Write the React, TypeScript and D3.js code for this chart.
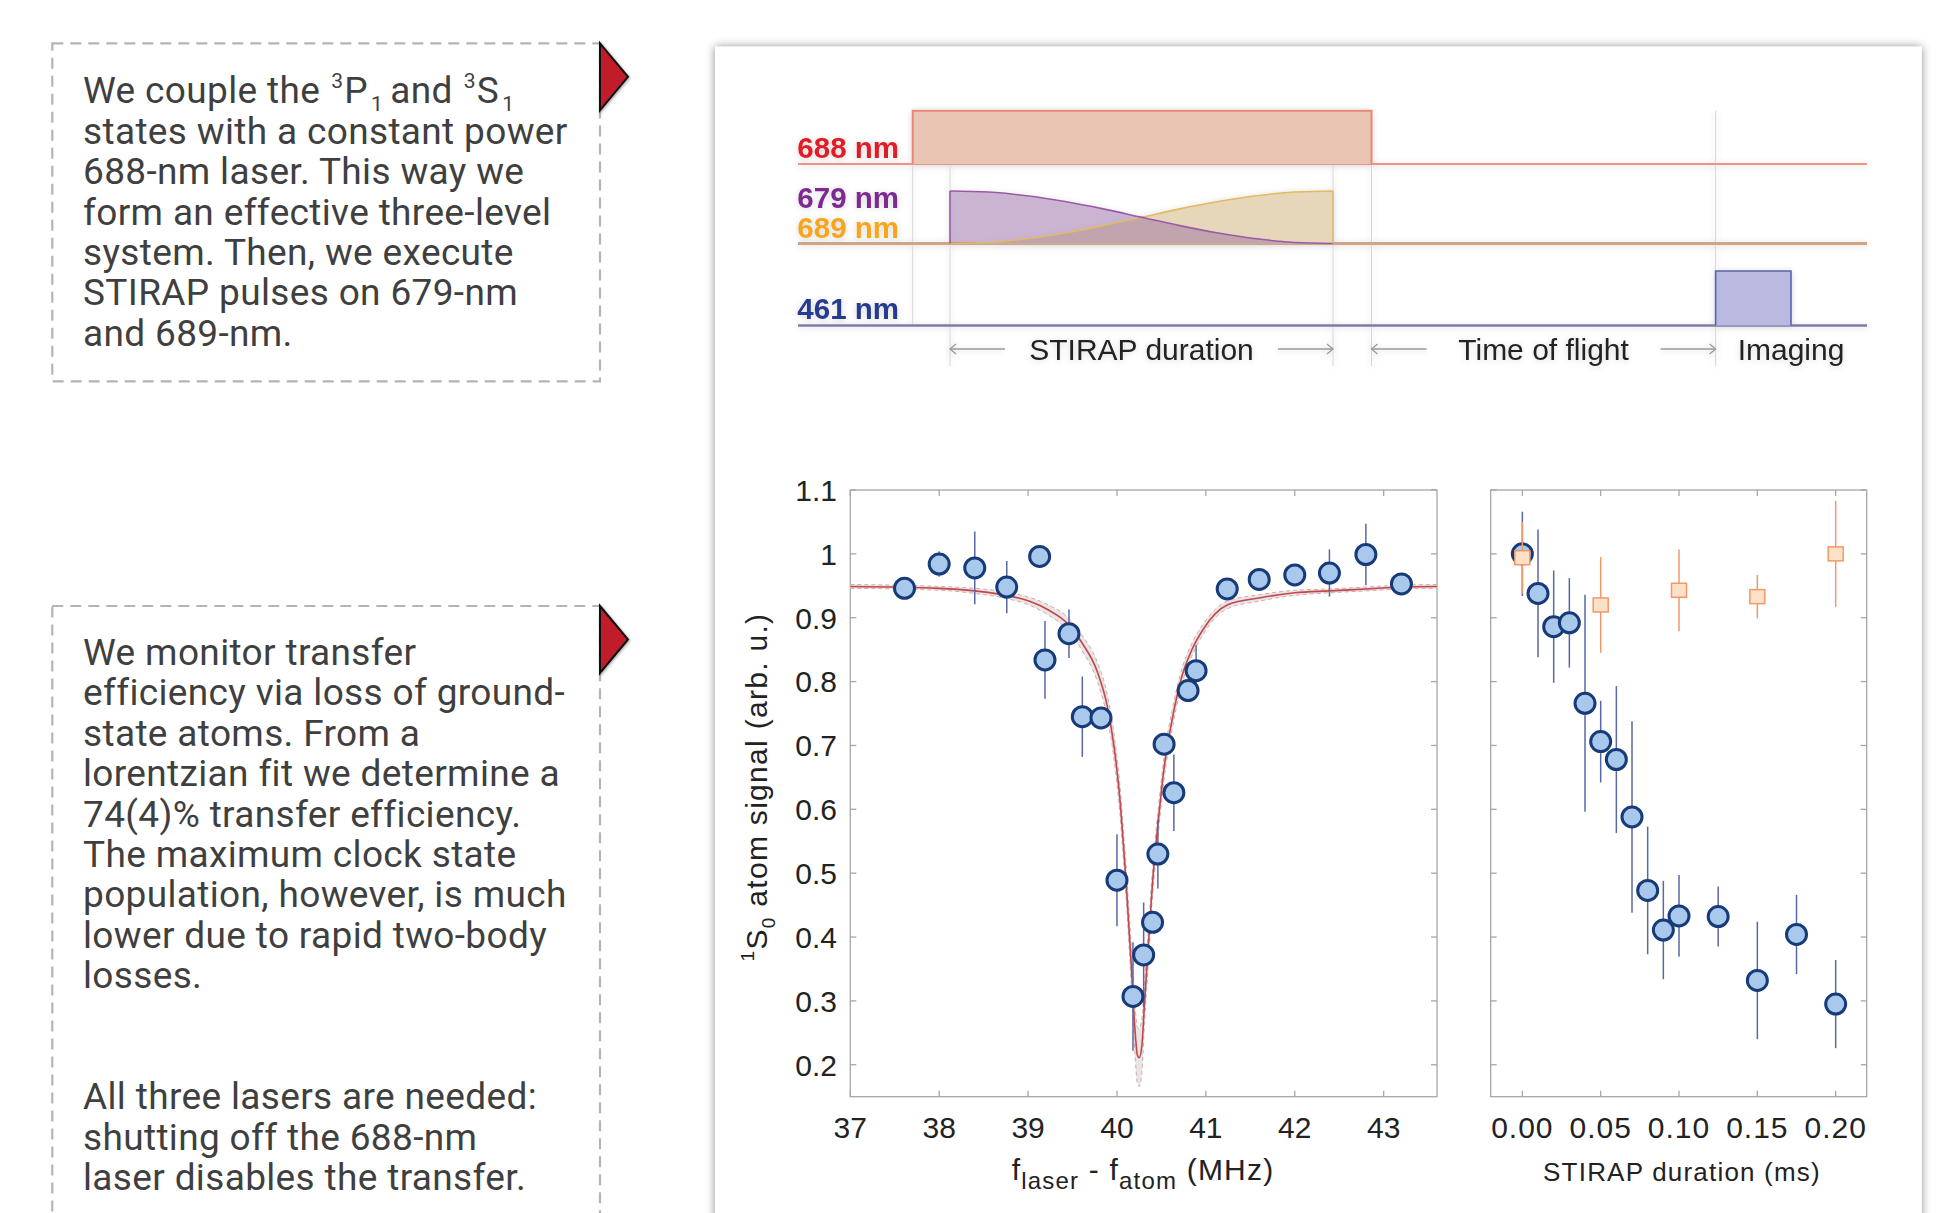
import * as d3 from 'd3';

const W = 1948;
const H = 1213;

// ---- text panels ----
const introLines = [
  '',
  'states with a constant power',
  '688-nm laser. This way we',
  'form an effective three-level',
  'system. Then, we execute',
  'STIRAP pulses on 679-nm',
  'and 689-nm.',
];
const resultLines = [
  'We monitor transfer',
  'efficiency via loss of ground-',
  'state atoms. From a',
  'lorentzian fit we determine a',
  '74(4)% transfer efficiency.',
  'The maximum clock state',
  'population, however, is much',
  'lower due to rapid two-body',
  'losses.',
  '',
  '',
  'All three lasers are needed:',
  'shutting off the 688-nm',
  'laser disables the transfer.',
];

// ---- pulse sequence (arbitrary time units 0..100) ----
const t688On = 10.73;
const tStirStart = 14.22;
const tStirEnd = 50.05;
const t688Off = 53.65;
const tImgStart = 85.84;
const tImgEnd = 92.89;
const stirFrac = [0, 0.1, 0.2, 0.3, 0.4, 0.5, 0.6, 0.7, 0.8, 0.9, 1];
const pump679 = [1, 0.98, 0.91, 0.8, 0.66, 0.5, 0.34, 0.2, 0.09, 0.02, 0];
const stokes689 = [0, 0.02, 0.09, 0.2, 0.34, 0.5, 0.66, 0.8, 0.91, 0.98, 1];

// ---- spectroscopy scan (left panel) ----
const scanFreq = [37.61, 38.0, 38.4, 38.76, 39.13, 39.19, 39.46, 39.61, 39.82, 40.0, 40.18, 40.3, 40.4, 40.46, 40.53, 40.64, 40.8, 40.89, 41.24, 41.6, 42.0, 42.39, 42.8, 43.2];
const scanSignal = [0.946, 0.984, 0.978, 0.948, 0.996, 0.834, 0.875, 0.745, 0.743, 0.489, 0.307, 0.372, 0.423, 0.53, 0.702, 0.626, 0.786, 0.817, 0.945, 0.96, 0.967, 0.97, 0.999, 0.953];
const scanErr = [0, 0.02, 0.057, 0.041, 0, 0.061, 0.038, 0.063, 0, 0.072, 0.085, 0.082, 0, 0.054, 0, 0.06, 0, 0.04, 0, 0, 0, 0.037, 0.048, 0];

// lorentzian fit
const fitFreq = [37.0, 38.0, 38.4, 38.76, 39.01, 39.23, 39.45, 39.61, 39.78, 39.89, 39.97, 40.03, 40.08, 40.11, 40.16, 40.2, 40.23, 40.25, 40.28, 40.31, 40.35, 40.4, 40.46, 40.53, 40.62, 40.73, 40.84, 40.97, 41.24, 41.6, 42.0, 42.39, 42.8, 43.2, 43.6];
const fitSignal = [0.949, 0.946, 0.942, 0.935, 0.926, 0.912, 0.89, 0.86, 0.815, 0.762, 0.695, 0.62, 0.53, 0.47, 0.357, 0.26, 0.215, 0.211, 0.23, 0.297, 0.38, 0.485, 0.575, 0.665, 0.74, 0.808, 0.849, 0.882, 0.92, 0.931, 0.939, 0.942, 0.945, 0.948, 0.949];
const fitBand = [0.003, 0.003, 0.004, 0.005, 0.006, 0.008, 0.01, 0.012, 0.015, 0.018, 0.02, 0.022, 0.024, 0.026, 0.03, 0.038, 0.044, 0.045, 0.042, 0.032, 0.026, 0.022, 0.02, 0.018, 0.015, 0.012, 0.01, 0.008, 0.006, 0.005, 0.004, 0.003, 0.003, 0.003, 0.003];

// ---- STIRAP duration scan (right panel) ----
const durOn = [0, 0.01, 0.02, 0.03, 0.04, 0.05, 0.06, 0.07, 0.08, 0.09, 0.1, 0.125, 0.15, 0.175, 0.2];
const sigOn = [1.0, 0.938, 0.886, 0.892, 0.766, 0.706, 0.678, 0.588, 0.473, 0.411, 0.433, 0.432, 0.332, 0.404, 0.295];
const errOn = [0.066, 0.1, 0.088, 0.07, 0.17, 0.064, 0.115, 0.15, 0.1, 0.077, 0.064, 0.047, 0.092, 0.062, 0.069];
const durOff = [0, 0.05, 0.1, 0.15, 0.2];
const sigOff = [0.994, 0.92, 0.943, 0.933, 1.0];
const errOff = [0.056, 0.075, 0.064, 0.034, 0.083];

const yTicks = [0.2, 0.3, 0.4, 0.5, 0.6, 0.7, 0.8, 0.9, 1, 1.1];
const xTicksL = [37, 38, 39, 40, 41, 42, 43];
const xTicksR = [0, 0.05, 0.1, 0.15, 0.2];

const SANS = "'Liberation Sans', Arial, Helvetica, sans-serif";
const BOXFONT = "Roboto, 'Noto Sans', sans-serif";

function TextBox({ x, y, w, h, arrowY, children }: { x: number; y: number; w: number; h: number; arrowY: number; children: any }) {
  return (
    <g>
      <rect x={x} y={y} width={w} height={h} fill="none" stroke="#b4b4b4" strokeWidth={2.2} strokeDasharray="11 7" />
      <path
        d={`M${x + w},${arrowY} L${x + w + 28},${arrowY + 33.5} L${x + w},${arrowY + 67} Z`}
        fill="#c01f2a"
        stroke="#111"
        strokeWidth={2}
        strokeLinejoin="miter"
        filter="url(#tri)"
      />
      {children}
    </g>
  );
}

function Frame({ x0, x1, y0, y1, xt, ys }: { x0: number; x1: number; y0: number; y1: number; xt: number[]; ys: number[] }) {
  const tl = 6;
  return (
    <g stroke="#a6a6a6" strokeWidth={1.3} fill="none">
      <rect x={x0} y={y0} width={x1 - x0} height={y1 - y0} />
      {ys.map((y, i) => (
        <g key={'y' + i}>
          <line x1={x0} x2={x0 + tl} y1={y} y2={y} />
          <line x1={x1} x2={x1 - tl} y1={y} y2={y} />
        </g>
      ))}
      {xt.map((x, i) => (
        <g key={'x' + i}>
          <line x1={x} x2={x} y1={y1} y2={y1 - tl} />
          <line x1={x} x2={x} y1={y0} y2={y0 + tl} />
        </g>
      ))}
    </g>
  );
}

export default function App() {
  // scales
  const tX = d3.scaleLinear().domain([0, 100]).range([798, 1867]);
  const amp688 = d3.scaleLinear().domain([0, 1]).range([164, 110.7]);
  const ampStir = d3.scaleLinear().domain([0, 1]).range([243.5, 191]);
  const amp461 = d3.scaleLinear().domain([0, 1]).range([325.5, 271]);
  const stirT = d3.scaleLinear().domain([0, 1]).range([tStirStart, tStirEnd]);

  const xL = d3.scaleLinear().domain([37, 43.6]).range([850.3, 1437]);
  const xR = d3.scaleLinear().domain([-0.0202, 0.2198]).range([1490.7, 1866.7]);
  const yS = d3.scaleLinear().domain([0.15, 1.1]).range([1096.7, 490]);

  const areaStir = (vals: number[]) =>
    d3
      .area<number>()
      .x((_, i) => tX(stirT(stirFrac[i])))
      .y0(ampStir(0))
      .y1((v) => ampStir(v))
      .curve(d3.curveMonotoneX)(vals) as string;
  const lineStir = (vals: number[]) =>
    d3
      .line<number>()
      .x((_, i) => tX(stirT(stirFrac[i])))
      .y((v) => ampStir(v))
      .curve(d3.curveMonotoneX)(vals) as string;

  const fitIdx = d3.range(fitFreq.length);
  const fitLine = d3
    .line<number>()
    .x((i) => xL(fitFreq[i]))
    .y((i) => yS(fitSignal[i]))
    .curve(d3.curveMonotoneX)(fitIdx) as string;
  const bandArea = d3
    .area<number>()
    .x((i) => xL(fitFreq[i]))
    .y0((i) => yS(fitSignal[i] - fitBand[i]))
    .y1((i) => yS(fitSignal[i] + fitBand[i]))
    .curve(d3.curveMonotoneX)(fitIdx) as string;
  const bandLo = d3
    .line<number>()
    .x((i) => xL(fitFreq[i]))
    .y((i) => yS(fitSignal[i] - fitBand[i]))
    .curve(d3.curveMonotoneX)(fitIdx) as string;
  const bandHi = d3
    .line<number>()
    .x((i) => xL(fitFreq[i]))
    .y((i) => yS(fitSignal[i] + fitBand[i]))
    .curve(d3.curveMonotoneX)(fitIdx) as string;

  const guideTimes = [tStirStart, tStirEnd, t688Off, tImgStart];
  const phaseY = 349;

  const arrow = (xa: number, xb: number, dir: number, key: string) => {
    // dir = -1 points left (head at xa), +1 points right (head at xb)
    const hx = dir < 0 ? xa : xb;
    return (
      <g key={key} stroke="#9a9a9a" strokeWidth={1.3} fill="none">
        <line x1={xa} x2={xb} y1={phaseY} y2={phaseY} />
        <path d={`M${hx - dir * 6},${phaseY - 5} L${hx},${phaseY} L${hx - dir * 6},${phaseY + 5}`} />
      </g>
    );
  };

  const boxText = { fontFamily: BOXFONT, fontSize: 37, fill: '#3f3f3f', letterSpacing: 0.35 };

  return (
    <div style={{ position: 'absolute', left: 0, top: 0, width: W, height: H, background: '#fff' }}>
      <svg width={W} height={H} viewBox={`0 0 ${W} ${H}`} style={{ display: 'block' }}>
        <defs>
          <filter id="card" x="-5%" y="-5%" width="110%" height="110%">
            <feDropShadow dx="0" dy="0" stdDeviation="5" floodColor="#000" floodOpacity="0.45" />
          </filter>
          <filter id="tri" x="-50%" y="-50%" width="200%" height="200%">
            <feDropShadow dx="1" dy="1" stdDeviation="1.5" floodColor="#000" floodOpacity="0.35" />
          </filter>
          <filter id="soft" x="-10%" y="-20%" width="120%" height="140%">
            <feDropShadow dx="0" dy="1" stdDeviation="3" floodColor="#000" floodOpacity="0.16" />
          </filter>
        </defs>

        {/* left-hand notes */}
        <TextBox x={52.3} y={43.3} w={547.7} h={338} arrowY={43.3}>
          <text {...boxText}>
            <tspan x={83} y={103.3}>We couple the</tspan>
            <tspan fontSize={21} dx={11} dy={-15}>3</tspan>
            <tspan dx={1} dy={15}>P</tspan>
            <tspan fontSize={21} dx={3} dy={8}>1</tspan>
            <tspan dy={-8} dx={7}>and</tspan>
            <tspan fontSize={21} dx={11} dy={-15}>3</tspan>
            <tspan dx={1} dy={15}>S</tspan>
            <tspan fontSize={21} dx={3} dy={8}>1</tspan>
          </text>
          {introLines.map((s, i) =>
            s ? (
              <text key={i} x={83} y={103.3 + i * 40.4} {...boxText}>
                {s}
              </text>
            ) : null
          )}
        </TextBox>
        <TextBox x={52.3} y={606} w={547.7} h={700} arrowY={606}>
          {resultLines.map((s, i) =>
            s ? (
              <text key={i} x={83} y={665 + i * 40.4} {...boxText}>
                {s}
              </text>
            ) : null
          )}
        </TextBox>

        {/* figure card */}
        <rect x={715} y={46.7} width={1206.7} height={1220} fill="#fff" filter="url(#card)" />

        {/* pulse sequence */}
        <g filter="url(#soft)">
          <line x1={tX(t688On)} x2={tX(t688On)} y1={amp688(1)} y2={amp461(0)} stroke="#d6d6d6" strokeWidth={1} />
          {guideTimes.map((t, i) => (
            <line key={i} x1={tX(t)} x2={tX(t)} y1={amp688(1)} y2={366} stroke="#d6d6d6" strokeWidth={1} />
          ))}

          {/* 688 nm */}
          <line x1={tX(0)} x2={tX(100)} y1={amp688(0)} y2={amp688(0)} stroke="#f09282" strokeWidth={2} />
          <path
            d={`M${tX(t688On)},${amp688(0)} V${amp688(1)} H${tX(t688Off)} V${amp688(0)}`}
            fill="#eac5b4"
            stroke="#e8877a"
            strokeWidth={2}
          />

          {/* 679 / 689 nm */}
          <line x1={tX(0)} x2={tX(100)} y1={ampStir(0)} y2={ampStir(0)} stroke="#cfa586" strokeWidth={3} />
          <path d={areaStir(stokes689)} fill="#e6d6ba" />
          <path d={areaStir(pump679)} fill="rgba(140,90,160,0.4)" />
          <path d={lineStir(stokes689)} fill="none" stroke="#e2ba62" strokeWidth={1.6} />
          <path d={lineStir(pump679)} fill="none" stroke="#9a5aa8" strokeWidth={1.6} />
          <line x1={tX(tStirStart)} x2={tX(tStirStart)} y1={ampStir(0)} y2={ampStir(1)} stroke="#9a5aa8" strokeWidth={1.6} />
          <line x1={tX(tStirEnd)} x2={tX(tStirEnd)} y1={ampStir(0)} y2={ampStir(1)} stroke="#e2ba62" strokeWidth={1.6} />

          {/* 461 nm */}
          <line x1={tX(0)} x2={tX(100)} y1={amp461(0)} y2={amp461(0)} stroke="#7c7caa" strokeWidth={2.5} />
          <path
            d={`M${tX(tImgStart)},${amp461(0)} V${amp461(1)} H${tX(tImgEnd)} V${amp461(0)}`}
            fill="#babae0"
            stroke="#5a62b0"
            strokeWidth={1.6}
          />

          <g fontFamily={SANS} fontWeight="bold" fontSize={29.5} textAnchor="end">
            <text x={899} y={158} fill="#e11f26">688 nm</text>
            <text x={899} y={208} fill="#7b2a90">679 nm</text>
            <text x={899} y={238} fill="#f7a51e">689 nm</text>
            <text x={899} y={319} fill="#273b8f">461 nm</text>
          </g>

          <g fontFamily={SANS} fontSize={30} fill="#222">
            <text x={(tX(tStirStart) + tX(tStirEnd)) / 2} y={phaseY + 11} textAnchor="middle">STIRAP duration</text>
            <text x={(tX(t688Off) + tX(tImgStart)) / 2} y={phaseY + 11} textAnchor="middle">Time of flight</text>
            <text x={tX(tImgStart) + 22} y={phaseY + 11}>Imaging</text>
          </g>
          {arrow(tX(tStirStart), tX(tStirStart) + 55, -1, 'a1')}
          {arrow(tX(tStirEnd) - 55, tX(tStirEnd), 1, 'a2')}
          {arrow(tX(t688Off), tX(t688Off) + 55, -1, 'a3')}
          {arrow(tX(tImgStart) - 55, tX(tImgStart), 1, 'a4')}
        </g>

        {/* left panel: frequency scan */}
        <Frame x0={xL(37)} x1={xL(43.6)} y0={yS(1.1)} y1={yS(0.15)} xt={xTicksL.map((v) => xL(v))} ys={yTicks.map((v) => yS(v))} />
        <path d={bandArea} fill="#e6e6e6" />
        <path d={bandLo} fill="none" stroke="#d9a8a8" strokeWidth={1} strokeDasharray="4 3" />
        <path d={bandHi} fill="none" stroke="#d9a8a8" strokeWidth={1} strokeDasharray="4 3" />
        <path d={fitLine} fill="none" stroke="#c4464a" strokeWidth={1.6} />
        {scanFreq.map((f, i) =>
          scanErr[i] > 0 ? (
            <line key={'e' + i} x1={xL(f)} x2={xL(f)} y1={yS(scanSignal[i] - scanErr[i])} y2={yS(scanSignal[i] + scanErr[i])} stroke="#5868a4" strokeWidth={1.5} />
          ) : null
        )}
        {scanFreq.map((f, i) => (
          <circle key={'c' + i} cx={xL(f)} cy={yS(scanSignal[i])} r={10} fill="#a8c8ec" stroke="#173a78" strokeWidth={3} />
        ))}
        <g fontFamily={SANS} fontSize={30} fill="#222">
          {yTicks.map((v) => (
            <text key={v} x={837} y={yS(v)} dy="0.36em" textAnchor="end">
              {String(v)}
            </text>
          ))}
          {xTicksL.map((v) => (
            <text key={v} x={xL(v)} y={1138} textAnchor="middle">
              {v}
            </text>
          ))}
          <text x={1143} y={1180} textAnchor="middle" letterSpacing={1.2}>
            f<tspan fontSize={24} dy={9}>laser</tspan>
            <tspan dy={-9}> - f</tspan>
            <tspan fontSize={24} dy={9}>atom</tspan>
            <tspan dy={-9}> (MHz)</tspan>
          </text>
          <text transform="translate(767,787) rotate(-90)" textAnchor="middle" letterSpacing={1.3}>
            <tspan fontSize={19} dy={-13}>1</tspan>
            <tspan dy={13}>S</tspan>
            <tspan fontSize={19} dy={8}>0</tspan>
            <tspan dy={-8}> atom signal (arb. u.)</tspan>
          </text>
        </g>

        {/* right panel: duration scan */}
        <Frame x0={xR(-0.0202)} x1={xR(0.2198)} y0={yS(1.1)} y1={yS(0.15)} xt={xTicksR.map((v) => xR(v))} ys={yTicks.map((v) => yS(v))} />
        {durOn.map((d, i) => (
          <line key={'eb' + i} x1={xR(d)} x2={xR(d)} y1={yS(sigOn[i] - errOn[i])} y2={yS(sigOn[i] + errOn[i])} stroke="#5868a4" strokeWidth={1.5} />
        ))}
        {durOn.map((d, i) => (
          <circle key={'cb' + i} cx={xR(d)} cy={yS(sigOn[i])} r={10} fill="#a8c8ec" stroke="#173a78" strokeWidth={3} />
        ))}
        {durOff.map((d, i) => (
          <line key={'eo' + i} x1={xR(d)} x2={xR(d)} y1={yS(sigOff[i] - errOff[i])} y2={yS(sigOff[i] + errOff[i])} stroke="#f29868" strokeWidth={1.5} />
        ))}
        {durOff.map((d, i) => (
          <rect key={'so' + i} x={xR(d) - 7.5} y={yS(sigOff[i]) - 7} width={15} height={14} fill="#fde0c8" stroke="#f29868" strokeWidth={1.5} />
        ))}
        <g fontFamily={SANS} fontSize={30} fill="#222">
          {xTicksR.map((v) => (
            <text key={v} x={xR(v)} y={1138} textAnchor="middle" letterSpacing={1}>
              {v.toFixed(2)}
            </text>
          ))}
          <text x={1682} y={1181} textAnchor="middle" fontSize={26} letterSpacing={1.2}>
            STIRAP duration (ms)
          </text>
        </g>
      </svg>
    </div>
  );
}
